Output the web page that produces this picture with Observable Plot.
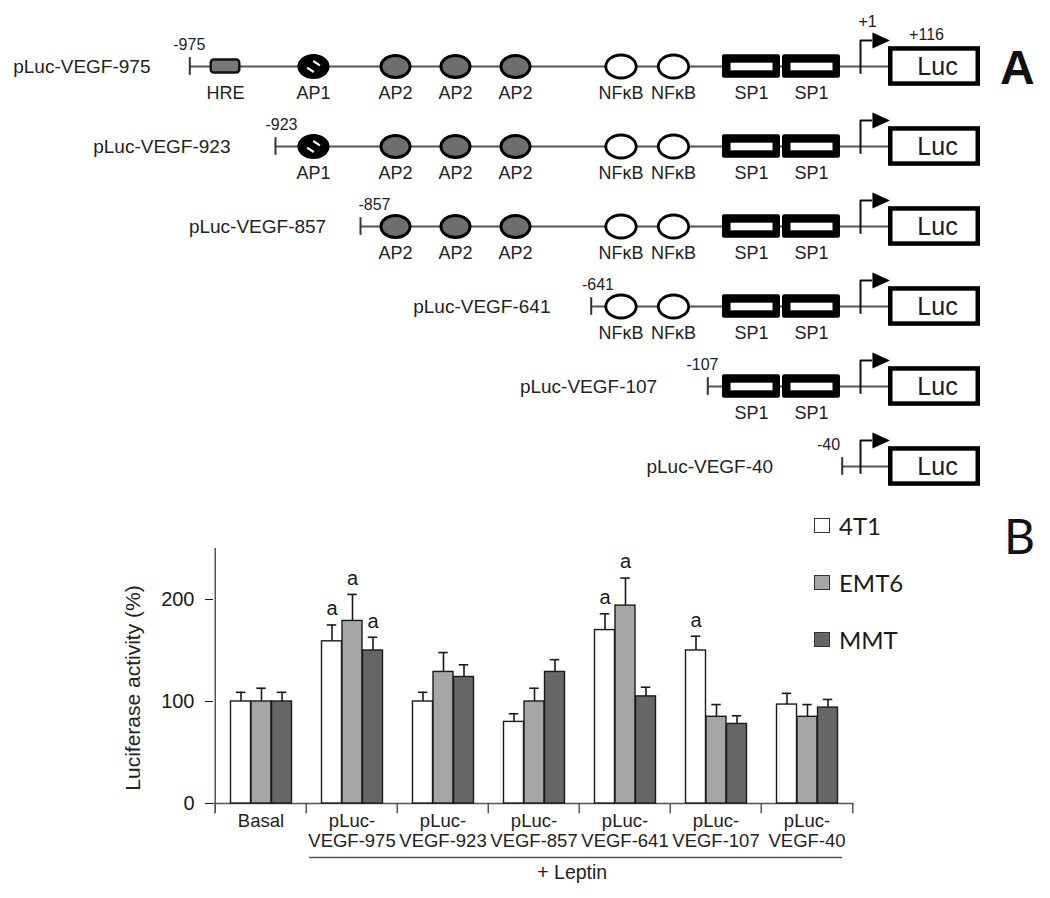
<!DOCTYPE html>
<html>
<head>
<meta charset="utf-8">
<script src="https://cdn.jsdelivr.net/npm/d3@7"></script>
<script src="https://cdn.jsdelivr.net/npm/@observablehq/plot@0.6"></script>
<style>
  html, body { margin: 0; padding: 0; background: #fff; }
  #root { position: relative; width: 1050px; height: 898px; overflow: hidden; font-family: 'Liberation Sans', Arial, sans-serif; color: #1a1a1a; }
  #root svg { position: absolute; left: 0; overflow: visible; }
  .letter { position: absolute; line-height: 1; white-space: nowrap; }
  .legend-item { position: absolute; display: flex; align-items: center; height: 16px; font-family: Lato, 'Open Sans', sans-serif; font-size: 24px; }
  .legend-item .sw { width: 14px; height: 13px; border: 1.6px solid #333; margin-right: 9px; }
</style>
</head>
<body>
<div id="root"></div>
<script>
// ================= Panel A: promoter constructs =================
const constructs = ["pLuc-VEGF-975", "pLuc-VEGF-923", "pLuc-VEGF-857", "pLuc-VEGF-641", "pLuc-VEGF-107", "pLuc-VEGF-40"];
const startSites = ["-975", "-923", "-857", "-641", "-107", "-40"];
// schematic map positions (drawing units along the promoter)
const startPos = [18.93, 27.5, 36.0, 59.07, 70.73, 84.17];
const startLabelPos = [18.88, 28.1, 37.4, 59.75, 70.2, 82.8];
const namePos = [15.0, 23.0, 32.57, 55.0, 65.67, 77.27];
const firstElement = [0, 1, 2, 5, 7, 9];
const elementName = ["HRE", "AP1", "AP2", "AP2", "AP2", "NFκB", "NFκB", "SP1", "SP1"];
const elementFrom = [20.95, 29.7, 37.9, 43.9, 49.9, 60.45, 65.7, 72.2, 78.2];
const elementTo   = [24.05, 32.9, 41.1, 47.1, 53.1, 63.65, 68.9, 78.0, 84.0];
const tssPos = 86.0;
const lucFrom = 88.8, lucTo = 98.0;
const tssLabel = "+1", lucLabel = "+116", reporter = "Luc";

// ================= Panel B: luciferase activity =================
const groups = ["Basal", "pLuc-VEGF-975", "pLuc-VEGF-923", "pLuc-VEGF-857", "pLuc-VEGF-641", "pLuc-VEGF-107", "pLuc-VEGF-40"];
const groupLabels = ["Basal", "pLuc-\nVEGF-975", "pLuc-\nVEGF-923", "pLuc-\nVEGF-857", "pLuc-\nVEGF-641", "pLuc-\nVEGF-107", "pLuc-\nVEGF-40"];
const series = ["4T1", "EMT6", "MMT"];
const seriesColors = ["#ffffff", "#a6a6a6", "#666666"];
const value4T1 = [100, 159, 100, 80, 170, 150, 97];
const valueEMT6 = [100, 179, 129, 100, 194, 85, 85];
const valueMMT = [100, 150, 124, 129, 105, 78, 94];
const err4T1 = [9, 16, 9, 8, 16, 14, 11];
const errEMT6 = [13, 26, 19, 13, 27, 12, 12];
const errMMT = [9, 13, 12, 12, 9, 8, 8];
const sig4T1 = [0, 1, 0, 0, 1, 1, 0];
const sigEMT6 = [0, 1, 0, 0, 1, 0, 0];
const sigMMT = [0, 1, 0, 0, 0, 0, 0];
const yTicks = [0, 100, 200];
const yLabel = "Luciferase activity (%)";
const treatmentLabel = "+ Leptin";
const sigLabel = "a";

// ---------------------------------------------------------------
const W = 1050;
const root = document.getElementById("root");
const font = "'Liberation Sans', Arial, sans-serif";

// ---- Panel A tables
const rowsA = constructs.map((c, i) => ({construct: c, start: startPos[i], site: startSites[i], sitePos: startLabelPos[i], namePos: namePos[i]}));
const elems = constructs.flatMap((c, i) =>
  elementName.map((n, j) => ({construct: c, name: n, from: elementFrom[j], to: elementTo[j], mid: (elementFrom[j] + elementTo[j]) / 2, j}))
    .filter(e => e.j >= firstElement[i]));
const byName = n => elems.filter(e => e.name === n);

const K = 0.5523;
const ellipse = {draw(ctx, size) {
  const r = Math.sqrt(size / Math.PI), rx = r * 1.32, ry = r;
  ctx.moveTo(rx, 0);
  ctx.bezierCurveTo(rx, ry * K, rx * K, ry, 0, ry);
  ctx.bezierCurveTo(-rx * K, ry, -rx, ry * K, -rx, 0);
  ctx.bezierCurveTo(-rx, -ry * K, -rx * K, -ry, 0, -ry);
  ctx.bezierCurveTo(rx * K, -ry, rx, -ry * K, rx, 0);
  ctx.closePath();
}};
const slash = {draw(ctx, size) {
  const r = Math.sqrt(size / Math.PI), a = 0.3 * r, b = 0.2 * r;
  [[0.28, -0.3], [-0.28, 0.3]].forEach(([cx, cy]) => {
    ctx.moveTo(cx * r - a, cy * r - b);
    ctx.lineTo(cx * r + a, cy * r + b);
  });
}};
const triRight = {draw(ctx, size) {
  const r = Math.sqrt(size / Math.PI), w = 2.5 * r, hh = 1.15 * r;
  ctx.moveTo(-w / 3, -hh);
  ctx.lineTo(2 * w / 3, 0);
  ctx.lineTo(-w / 3, hh);
  ctx.closePath();
}};

const half = 40.2; // half band height of a construct row
const plotA = Plot.plot({
  width: W, height: 500, margin: 0,
  x: {domain: [0, 105], range: [0, W], axis: null},
  y: {type: "band", domain: constructs, range: [24.8, 507.2], padding: 0, axis: null},
  style: {fontFamily: font, fontSize: "18px", background: "transparent", overflow: "visible", color: "#1a1a1a"},
  marks: [
    Plot.ruleY(rowsA, {y: "construct", x1: "start", x2: () => lucFrom, stroke: "#555", strokeWidth: 2}),
    Plot.tickX(rowsA, {x: "start", y: "construct", insetTop: half - 9, insetBottom: half - 9, stroke: "#333", strokeWidth: 2}),
    Plot.barX(byName("HRE"), {x1: "from", x2: "to", y: "construct", fill: "#777", stroke: "#111", strokeWidth: 2.5, rx: 3,
      insetTop: half - 6.7, insetBottom: half - 6.7, insetLeft: 1.25, insetRight: 1.25}),
    Plot.dot(byName("AP1"), {x: "mid", y: "construct", r: 11, symbol: ellipse, fill: "#000", stroke: "#000", strokeWidth: 3}),
    Plot.dot(byName("AP1"), {x: "mid", y: "construct", r: 11, symbol: slash, fill: "none", stroke: "#fff", strokeWidth: 2.2}),
    Plot.dot(byName("AP2"), {x: "mid", y: "construct", r: 11, symbol: ellipse, fill: "#6e6e6e", stroke: "#000", strokeWidth: 3}),
    Plot.dot(byName("NFκB"), {x: "mid", y: "construct", r: 11.5, symbol: ellipse, fill: "#fff", stroke: "#000", strokeWidth: 2.8}),
    Plot.barX(byName("SP1"), {x1: "from", x2: "to", y: "construct", fill: "#000", rx: 2, insetTop: half - 12, insetBottom: half - 12}),
    Plot.barX(byName("SP1"), {x1: "from", x2: "to", y: "construct", fill: "#fff", insetTop: half - 3.5, insetBottom: half - 4.5, insetLeft: 8.5, insetRight: 7.5}),
    Plot.tickX(rowsA, {x: () => tssPos, y: "construct", insetTop: half - 26, insetBottom: half - 8, stroke: "#111", strokeWidth: 2}),
    Plot.ruleY(rowsA, {y: "construct", x1: () => tssPos, x2: () => tssPos, insetRight: -12, dy: -26, stroke: "#111", strokeWidth: 2}),
    Plot.dot(rowsA, {x: () => tssPos, y: "construct", r: 7, symbol: triRight, fill: "#000", dx: 17.8, dy: -26}),
    Plot.barX(rowsA, {x1: () => lucFrom, x2: () => lucTo, y: "construct", fill: "#fff", stroke: "#000", strokeWidth: 4.5,
      insetTop: half - 20 + 2.25, insetBottom: half - 20 + 2.25, insetLeft: 2.25, insetRight: 2.25}),
    Plot.text(rowsA, {x: () => (lucFrom + lucTo) / 2, y: "construct", text: () => reporter, fontSize: 25, dx: 3}),
    Plot.text(rowsA, {x: "namePos", y: "construct", text: "construct", textAnchor: "end", fontSize: 19, fill: "#222"}),
    Plot.text(rowsA, {x: "sitePos", y: "construct", text: "site", fontSize: 16, dy: -22, fill: "#222"}),
    Plot.text(elems, {x: "mid", y: "construct", text: "name", fontSize: 18, dy: 27, fill: "#222"}),
    Plot.text(rowsA.slice(0, 1), {x: () => tssPos, y: "construct", text: () => tssLabel, fontSize: 16, dx: 7, dy: -45}),
    Plot.text(rowsA.slice(0, 1), {x: () => lucFrom, y: "construct", text: () => lucLabel, fontSize: 16, dx: 38, dy: -32})
  ]
});
plotA.style.top = "0px";
root.appendChild(plotA);

// ---- Panel B
const mL = 213, mR = 196.5, mT = 48, mB = 95;
const bw = (W - mL - mR) / groups.length;
const barW = 20.5;
const barInset = (bw - barW) / 2;
const capInset = (bw - 10) / 2;
const offsets = series.map((s, i) => (i - 1) * barW + 0.5);
const values = [value4T1, valueEMT6, valueMMT];
const errors = [err4T1, errEMT6, errMMT];
const sigs = [sig4T1, sigEMT6, sigMMT];
const table = series.map((s, i) => groups.map((g, j) => ({group: g, series: s, value: values[i][j], top: values[i][j] + errors[i][j], sig: sigs[i][j]})));
const groupTable = groups.map((g, j) => ({group: g, label: groupLabels[j]}));

const barMarks = series.flatMap((s, i) => [
  Plot.barY(table[i], {x: "group", y: "value", fill: seriesColors[i], stroke: "#1a1a1a", strokeWidth: 1.4,
    insetLeft: barInset, insetRight: barInset, dx: offsets[i]}),
  Plot.ruleX(table[i], {x: "group", y1: "value", y2: "top", stroke: "#1a1a1a", strokeWidth: 1.6, dx: offsets[i]}),
  Plot.tickY(table[i], {x: "group", y: "top", stroke: "#1a1a1a", strokeWidth: 1.6, insetLeft: capInset, insetRight: capInset, dx: offsets[i]}),
  Plot.text(table[i].filter(d => d.sig), {x: "group", y: "top", text: () => sigLabel, fontSize: 20, dy: -16, dx: offsets[i]})
]);

const plotB = Plot.plot({
  width: W, height: 398, marginLeft: mL, marginRight: mR, marginTop: mT, marginBottom: mB,
  x: {type: "band", domain: groups, padding: 0, axis: null},
  y: {domain: [0, 250], ticks: yTicks, tickSize: 8, tickPadding: 11, label: null},
  style: {fontFamily: font, fontSize: "20px", background: "transparent", overflow: "visible", color: "#1a1a1a"},
  marks: [
    Plot.ruleY([0], {stroke: "#555", strokeWidth: 1.5}),
    Plot.ruleX(groups, {x: d => d, y1: () => 0, y2: () => -10, dx: -bw / 2, stroke: "#555", strokeWidth: 1.5}),
    Plot.ruleX(groups.slice(-1), {x: d => d, y1: () => 0, y2: () => -10, dx: bw / 2, stroke: "#555", strokeWidth: 1.5}),
    Plot.ruleX(groups.slice(0, 1), {x: d => d, y1: () => -10, y2: () => 250, dx: -bw / 2, stroke: "#555", strokeWidth: 1.5}),
    ...barMarks,
    Plot.text(groupTable, {x: "group", text: "label", frameAnchor: "bottom", lineAnchor: "top", dy: 10, fontSize: 18.5, lineHeight: 1.05, fill: "#222"}),
    Plot.ruleY([0], {x1: () => groups[1], x2: () => groups[groups.length - 1], dy: 54, insetLeft: 3, insetRight: 10, stroke: "#555", strokeWidth: 1.5}),
    Plot.text([treatmentLabel], {x: () => groups[4], frameAnchor: "bottom", lineAnchor: "top", dy: 62, dx: -bw / 2 - 7, fontSize: 19.5, fill: "#222"}),
    Plot.text([yLabel], {frameAnchor: "left", textAnchor: "middle", rotate: -90, dx: -80, dy: 12, fontSize: 21, fill: "#222"})
  ]
});
plotB.style.top = "500px";
root.appendChild(plotB);

// ---- Legend (HTML)
series.forEach((s, i) => {
  const item = document.createElement("div");
  item.className = "legend-item";
  item.style.left = "814px";
  item.style.top = (517 + i * 57.3) + "px";
  const sw = document.createElement("div");
  sw.className = "sw";
  sw.style.background = seriesColors[i];
  const lab = document.createElement("span");
  lab.textContent = s;
  item.appendChild(sw);
  item.appendChild(lab);
  root.appendChild(item);
});

// ---- Panel letters
const la = document.createElement("div");
la.className = "letter";
la.textContent = "A";
Object.assign(la.style, {left: "1000px", top: "44px", fontSize: "48px", fontWeight: "bold", fontFamily: font, color: "#111"});
root.appendChild(la);
const lb = document.createElement("div");
lb.className = "letter";
lb.textContent = "B";
Object.assign(lb.style, {left: "1004px", top: "512px", fontSize: "48px", fontFamily: "Lato, 'Open Sans', sans-serif", color: "#111"});
root.appendChild(lb);
</script>
</body>
</html>
